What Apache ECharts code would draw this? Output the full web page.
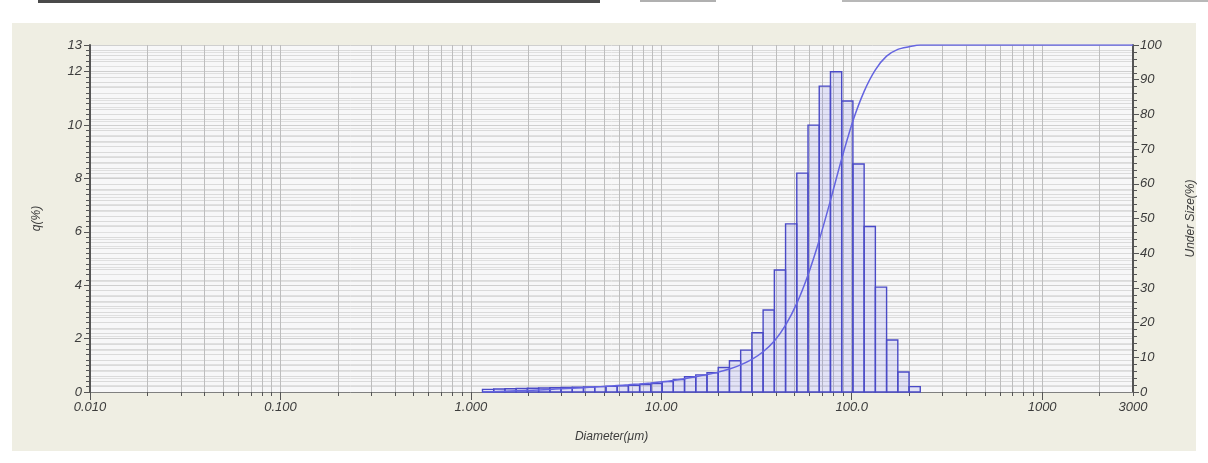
<!DOCTYPE html>
<html><head><meta charset="utf-8">
<script src="https://cdn.jsdelivr.net/npm/echarts@6/dist/echarts.min.js"></script>
<style>html,body{margin:0;padding:0;background:#fff}#c{width:1208px;height:463px}</style>
</head><body><div id="c"></div><script>
// Bin edges (µm) of the histogram classes that carry data
const binEdges = [1.151,1.318,1.510,1.729,1.981,2.269,2.599,2.976,3.409,3.905,4.472,5.122,5.867,6.720,7.697,8.816,10.097,11.565,13.246,15.172,17.377,19.904,22.797,26.111,29.907,34.255,39.234,44.938,51.471,58.953,67.523,77.339,88.583,101.460,116.210,133.103,152.453,174.616,200.000,229.075];
// q(%) per bin
const qValues = [0.10,0.11,0.12,0.13,0.14,0.15,0.16,0.17,0.18,0.19,0.20,0.21,0.23,0.25,0.28,0.32,0.39,0.47,0.57,0.64,0.72,0.92,1.17,1.57,2.22,3.07,4.57,6.30,8.20,10.00,11.46,12.00,10.90,8.54,6.20,3.93,1.95,0.75,0.20];
// Under size (%) curve
const cumDiameters = [1.151,1.318,1.510,1.729,1.981,2.269,2.599,2.976,3.409,3.905,4.472,5.122,5.867,6.720,7.697,8.816,10.097,11.565,13.246,15.172,17.377,19.904,22.797,26.111,29.907,34.255,39.234,44.938,51.471,58.953,67.523,77.339,88.583,101.460,116.210,133.103,152.453,174.616,200.000,229.075,262.376,3000];
const cumValues = [0,0.10,0.21,0.33,0.46,0.60,0.75,0.91,1.08,1.26,1.45,1.65,1.86,2.09,2.34,2.62,2.94,3.33,3.80,4.37,5.01,5.73,6.65,7.82,9.39,11.61,14.68,19.25,25.55,33.75,43.75,55.21,67.21,78.11,86.65,92.85,96.78,98.73,99.48,100,100,100];
// x axis labels and grid positions
const xLabelValues = [0.01,0.1,1,10,100,1000,3000];
const xLabelTexts = ['0.010','0.100','1.000','10.00','100.0','1000','3000'];
const xGridValues = [0.01,0.02,0.03,0.04,0.05,0.06,0.07,0.08,0.09,0.1,0.2,0.3,0.4,0.5,0.6,0.7,0.8,0.9,1,2,3,4,5,6,7,8,9,10,20,30,40,50,60,70,80,90,100,200,300,400,500,600,700,800,900,1000,2000,3000];
const xDecadeValues = [0.01,0.1,1,10,100,1000];

const labelFont = {fontFamily:'Liberation Sans, Arial, sans-serif', fontStyle:'italic', fontSize:13, color:'#3c3c3c'};
const chart = echarts.init(document.getElementById('c'));
const barData = qValues.map((v,i)=>[binEdges[i], binEdges[i+1], v]);
const cumData = cumDiameters.map((d,i)=>[d, cumValues[i]]);

chart.setOption({
  backgroundColor:'#ffffff',
  animation:false,
  graphic:[
    {type:'rect', z:-10, shape:{x:12,y:23,width:1184,height:428}, style:{fill:'#efeee3'}},
    {type:'rect', z:-10, shape:{x:38,y:0,width:562,height:3}, style:{fill:'#4a4a4a'}},
    {type:'rect', z:-10, shape:{x:640,y:0,width:76,height:2}, style:{fill:'#b0b0b0'}},
    {type:'rect', z:-10, shape:{x:842,y:0,width:366,height:2}, style:{fill:'#b8b8b8'}}
  ],
  grid:{left:90, right:75, top:45, bottom:71, show:true, backgroundColor:'#f7f7f8', borderWidth:0},
  xAxis:[{
    type:'log', logBase:10, min:0.01, max:3000,
    name:'Diameter(μm)', nameLocation:'middle', nameGap:39,
    nameTextStyle:Object.assign({}, labelFont, {fontSize:12}),
    axisLine:{show:true, onZero:false, lineStyle:{color:'#808080', width:1}},
    axisTick:{show:true, customValues:xGridValues, length:4, lineStyle:{color:'#555'}},
    axisLabel:Object.assign({show:true, customValues:xLabelValues, margin:9,
      formatter:(v)=>{const i = xLabelValues.findIndex(x=>Math.abs(x-v)/x<1e-6); return i>=0?xLabelTexts[i]:'';}}, labelFont),
    splitLine:{show:true, lineStyle:{color:'#bdbdbd', width:1}},
    minorTick:{show:false}, minorSplitLine:{show:false}
  },{
    type:'log', logBase:10, min:0.01, max:3000, position:'bottom',
    axisLine:{show:false},
    axisTick:{show:true, customValues:xDecadeValues, length:8, lineStyle:{color:'#555'}},
    axisLabel:{show:false}, splitLine:{show:false}
  }],
  yAxis:[{
    type:'value', min:0, max:13, interval:2, position:'left',
    name:'q(%)', nameLocation:'middle', nameGap:47, nameRotate:90,
    nameTextStyle:Object.assign({}, labelFont, {fontSize:12}),
    axisLine:{show:true, lineStyle:{color:'#555', width:2}},
    axisTick:{show:true, length:6, lineStyle:{color:'#555'}},
    minorTick:{show:true, splitNumber:10, length:4, lineStyle:{color:'#555'}},
    axisLabel:Object.assign({margin:8}, labelFont),
    splitLine:{show:true, lineStyle:{color:'#cfcfcf'}},
    minorSplitLine:{show:true, lineStyle:{color:'#dadada'}}
  },{
    type:'value', min:0, max:100, interval:10, position:'right',
    name:'Under Size(%)', nameLocation:'middle', nameGap:52, nameRotate:90,
    nameTextStyle:Object.assign({}, labelFont, {fontSize:12}),
    axisLine:{show:true, lineStyle:{color:'#555', width:2}},
    axisTick:{show:true, length:6, lineStyle:{color:'#555'}},
    minorTick:{show:true, splitNumber:5, length:4, lineStyle:{color:'#555'}},
    axisLabel:Object.assign({margin:7}, labelFont),
    splitLine:{show:false},
    minorSplitLine:{show:true, lineStyle:{color:'#e0e0e0'}}
  }],
  series:[{
    type:'custom', xAxisIndex:0, yAxisIndex:0, data:barData,
    encode:{x:[0,1], y:2},
    renderItem:(params, api)=>{
      const p0 = api.coord([api.value(0), api.value(2)]);
      const p1 = api.coord([api.value(1), 0]);
      return {type:'rect', shape:{x:p0[0], y:p0[1], width:p1[0]-p0[0], height:p1[1]-p0[1]},
        style:{fill:'rgba(120,120,235,0.16)', stroke:'#4a4ac6', lineWidth:1.4}};
    }
  },{
    type:'line', xAxisIndex:0, yAxisIndex:1, data:cumData, smooth:0.3,
    symbol:'none', lineStyle:{color:'#6464e0', width:1.5}, z:3
  }]
});
</script></body></html>
